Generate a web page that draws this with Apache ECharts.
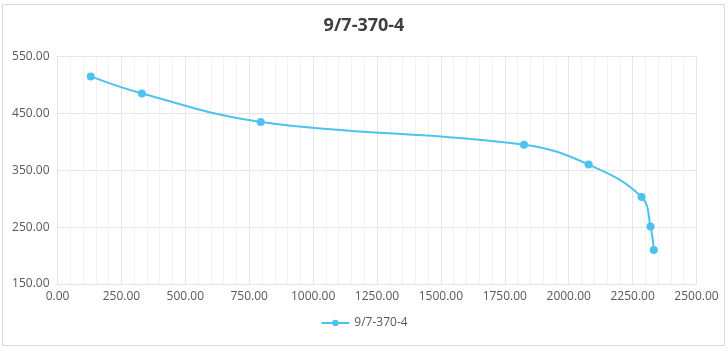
<!DOCTYPE html>
<html>
<head>
<meta charset="utf-8">
<script src="https://cdn.jsdelivr.net/npm/echarts@6/dist/echarts.min.js"></script>
<style>
  html, body { margin: 0; padding: 0; background: #fff; }
  #chart { width: 728px; height: 351px; }
</style>
</head>
<body>
<div id="chart"></div>
<script>
// data
const seriesName = '9/7-370-4'
const flowValues = [130, 330, 795, 1825, 2078, 2285, 2320, 2333]
const headValues = [515, 485, 435, 395, 360, 303, 251, 210]
const xTicks = { min: 0, max: 2500, step: 250 }
const yTicks = { min: 150, max: 550, step: 100 }

const points = flowValues.map((x, i) => [x, headValues[i]])
const font = '"Open Sans", "Noto Sans", sans-serif'

const chart = echarts.init(document.getElementById('chart'))
chart.setOption({
  animation: false,
  title: {
    text: seriesName,
    left: 'center',
    top: 12,
    textStyle: { fontFamily: font, fontSize: 18, fontWeight: 'bold', color: '#404040' }
  },
  graphic: [{
    type: 'rect',
    shape: { x: 2.5, y: 4.5, width: 722, height: 341 },
    style: { fill: 'none', stroke: '#d9d9d9', lineWidth: 1 },
    silent: true
  }],
  legend: {
    data: [seriesName],
    bottom: 17,
    left: 'center',
    itemWidth: 28,
    itemHeight: 8,
    textStyle: { fontFamily: font, fontSize: 12, color: '#595959' }
  },
  grid: {
    left: 57.5,
    right: 31.5,
    top: 56.5,
    bottom: 67,
    containLabel: false
  },
  xAxis: {
    type: 'value',
    min: xTicks.min,
    max: xTicks.max,
    interval: xTicks.step,
    axisLine: { show: true, lineStyle: { color: '#e3e3e3' } },
    axisTick: { show: false },
    axisLabel: {
      margin: 7,
      fontFamily: font, fontSize: 12, color: '#595959',
      formatter: v => v.toFixed(2)
    },
    splitLine: { show: true, lineStyle: { color: '#e6e6e6' } },
    minorTick: { show: false, splitNumber: 5 },
    minorSplitLine: { show: true, lineStyle: { color: '#f2f2f2' } }
  },
  yAxis: {
    type: 'value',
    min: yTicks.min,
    max: yTicks.max,
    interval: yTicks.step,
    axisLine: { show: true, lineStyle: { color: '#e3e3e3' } },
    axisTick: { show: false },
    axisLabel: {
      margin: 8,
      fontFamily: font, fontSize: 12, color: '#595959',
      formatter: v => v.toFixed(2)
    },
    splitLine: { show: true, lineStyle: { color: '#e6e6e6' } }
  },
  series: [{
    name: seriesName,
    type: 'line',
    data: points,
    smooth: 0.4,
    symbol: 'circle',
    symbolSize: 8,
    itemStyle: { color: '#4ec2ef' },
    lineStyle: { color: '#4ec2ef', width: 2 }
  }]
})
</script>
</body>
</html>
